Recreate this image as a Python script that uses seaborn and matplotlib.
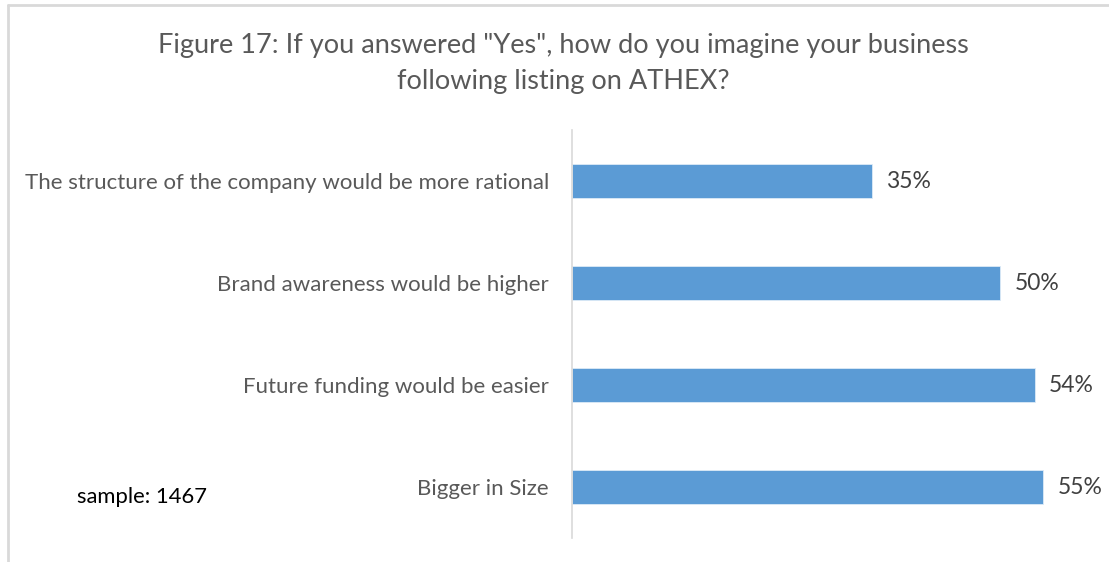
import matplotlib
matplotlib.use("Agg")
import matplotlib.pyplot as plt
import seaborn as sns
import pandas as pd
from matplotlib.lines import Line2D

categories = [
    "The structure of the company would be more rational",
    "Brand awareness would be higher",
    "Future funding would be easier",
    "Bigger in Size",
]
values = [35, 50, 54, 55]
title = 'Figure 17: If you answered "Yes", how do you imagine your business\nfollowing listing on ATHEX?'
note = "sample: 1467"

sns.set_theme(style="white")
plt.rcParams["font.family"] = ["Lato", "DejaVu Sans"]

df = pd.DataFrame({"cat": categories, "val": values})

fig = plt.figure(figsize=(11.09, 5.62), dpi=100)
ax = fig.add_axes([572 / 1109, 1 - 538 / 562, (1086 - 572) / 1109, (538 - 130) / 562])

sns.barplot(data=df, x="val", y="cat", orient="h", color="#5B9BD5", saturation=1,
            width=0.333, ax=ax, edgecolor="#DDEBF7", linewidth=0.6)

ax.set_xlim(0, 60)
ax.set_ylim(3.5, -0.5)
ax.set_xlabel("")
ax.set_ylabel("")
ax.set_xticks([])
for s in ["top", "right", "bottom"]:
    ax.spines[s].set_visible(False)
ax.spines["left"].set_color("#D9D9D9")
ax.spines["left"].set_linewidth(1.2)
ax.tick_params(axis="y", length=0, pad=16.5, labelsize=16, labelcolor="#595959")

for i, v in enumerate(values):
    ax.text(v + 1.7, i, f"{v}%", va="center", ha="left", fontsize=16.5, color="#404040")

fig.text(563 / 1109, 1 - 63.5 / 562, title, ha="center", va="center", fontsize=19.5,
         color="#595959", linespacing=1.58)
fig.text(142 / 1109, 1 - 497 / 562, note, ha="center", va="center", fontsize=15.8, color="#000000")

fig.lines.append(Line2D([8 / 1109, 8 / 1109], [-0.05, 1 - 5 / 562], transform=fig.transFigure,
                        color="#D9D9D9", linewidth=2))
fig.lines.append(Line2D([8 / 1109, 1.05], [1 - 5 / 562, 1 - 5 / 562], transform=fig.transFigure,
                        color="#D9D9D9", linewidth=2))

fig.savefig("out.png", dpi=100)
